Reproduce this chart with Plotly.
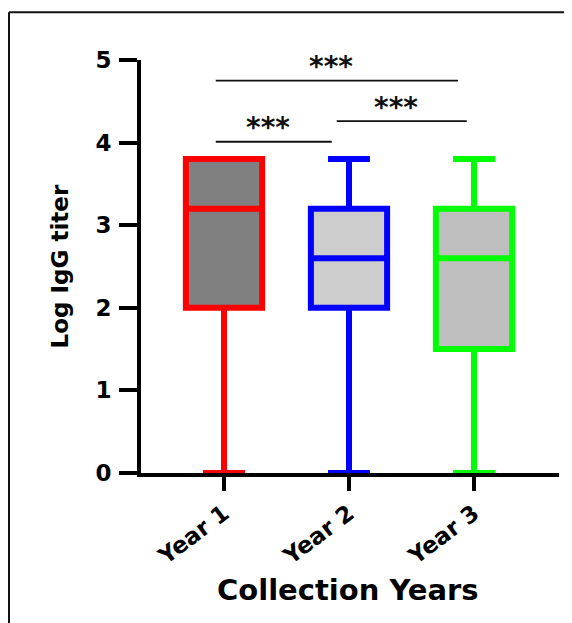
import plotly.graph_objects as go

# ---- data ----
categories = ["Year 1", "Year 2", "Year 3"]
lower_fence = [0.0, 0.0, 0.0]
q1_vals = [2.0, 2.0, 1.5]
median_vals = [3.2, 2.6, 2.6]
q3_vals = [3.8, 3.2, 3.2]
upper_fence = [3.8, 3.8, 3.8]
line_colors = ["#ff0000", "#0000ff", "#00ff00"]
fill_colors = ["#808080", "#cdcdcd", "#bebebe"]
y_ticks = [0, 1, 2, 3, 4, 5]

# significance comparisons: (from index, to index, label, bracket height)
comparisons = [
    (0, 2, "***", 4.75),
    (1, 2, "***", 4.26),
    (0, 1, "***", 4.01),
]
# small horizontal trims of bracket ends (category units)
bracket_trim = [(-0.066, -0.128), (-0.098, -0.058), (-0.066, -0.138)]

FONT = "DejaVu Sans, Liberation Sans, sans-serif"

fig = go.Figure()
for i, cat in enumerate(categories):
    fig.add_trace(go.Box(
        x=[cat],
        lowerfence=[lower_fence[i]],
        q1=[q1_vals[i]],
        median=[median_vals[i]],
        q3=[q3_vals[i]],
        upperfence=[upper_fence[i]],
        fillcolor=fill_colors[i],
        line=dict(color=line_colors[i], width=6),
        width=0.61,
        whiskerwidth=0.55,
        boxpoints=False,
        showlegend=False,
        hoverinfo="skip",
    ))

shapes = []
annotations = []
for (a, b, label, h), (ta, tb) in zip(comparisons, bracket_trim):
    x0 = a + ta
    x1 = b + tb
    shapes.append(dict(type="line", xref="x", yref="y", x0=x0, x1=x1, y0=h, y1=h,
                       line=dict(color="#111111", width=1.8)))
    annotations.append(dict(xref="x", yref="y", x=(x0 + x1) / 2 - 0.05, y=h - 0.055,
                            text=label, showarrow=False, yanchor="bottom",
                            font=dict(family=FONT, size=28, color="#111111", weight="bold")))

# outer frame (top and left edges)
shapes.append(dict(type="line", xref="paper", yref="paper", x0=-0.3158, x1=1.1,
                   y0=1.1155, y1=1.1155, line=dict(color="#111111", width=2)))
shapes.append(dict(type="line", xref="paper", yref="paper", x0=-0.3158, x1=-0.3158,
                   y0=-0.5, y1=1.1155, line=dict(color="#111111", width=2)))

# axis titles
annotations.append(dict(xref="paper", yref="paper", x=0.495, y=-0.283, yanchor="middle",
                        text="Collection Years", showarrow=False,
                        font=dict(family=FONT, size=29, color="#000000", weight="bold")))
annotations.append(dict(xref="paper", yref="paper", x=-0.194, y=0.5, xanchor="center",
                        text="Log IgG titer", showarrow=False, textangle=-90,
                        font=dict(family=FONT, size=23, color="#000000", weight="bold")))

fig.update_layout(
    width=572, height=623,
    margin=dict(l=133, r=21, t=52, b=158),
    paper_bgcolor="white", plot_bgcolor="white",
    shapes=shapes, annotations=annotations,
    font=dict(family=FONT, color="#000000"),
)
fig.update_xaxes(
    type="category", range=[-0.664, 2.68],
    showline=True, linecolor="#000000", linewidth=4,
    ticks="outside", ticklen=14, tickwidth=4, tickcolor="#000000",
    tickangle=-37, showgrid=False, zeroline=False, layer="below traces",
    tickfont=dict(family=FONT, size=23, color="#000000", weight="bold"),
)
fig.update_yaxes(
    range=[0, 5], tickvals=y_ticks,
    showline=True, linecolor="#000000", linewidth=4,
    ticks="outside", ticklen=18, tickwidth=4, tickcolor="#000000",
    showgrid=False, zeroline=False, layer="below traces",
    tickfont=dict(family=FONT, size=23, color="#000000", weight="bold"),
    ticklabelstandoff=3,
)

fig.write_html("out.html")
